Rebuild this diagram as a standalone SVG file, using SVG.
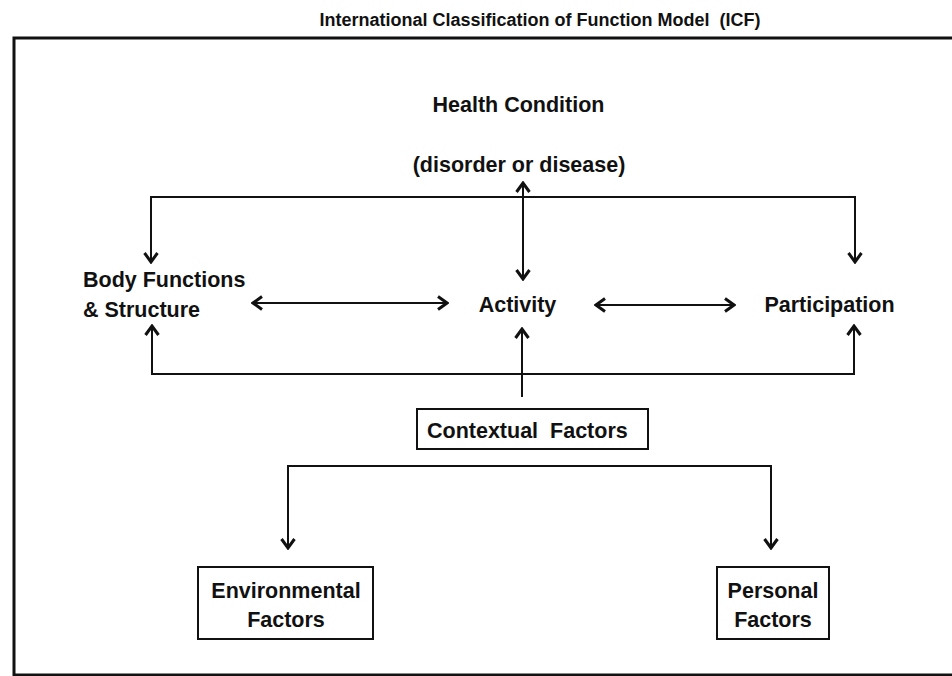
<svg xmlns="http://www.w3.org/2000/svg" width="952" height="676" viewBox="0 0 952 676">
<defs>
<style>
text{font-family:"Liberation Sans",Arial,sans-serif;font-weight:bold;font-size:21.5px;fill:#111;white-space:pre}
.title{font-size:18px}
.mid{text-anchor:middle}
.box{fill:#fff;stroke:#111;stroke-width:2}
.conn{fill:none;stroke:#111;stroke-width:2}
</style>
<marker id="arr" viewBox="-12 -10 14 20" markerWidth="14" markerHeight="20" refX="0" refY="0" markerUnits="userSpaceOnUse" orient="auto-start-reverse">
<path d="M-9,-6.5 L0,0 L-9,6.5" fill="none" stroke="#111" stroke-width="3"/>
</marker>
</defs>
<rect width="952" height="676" fill="#fff"/>
<text class="title mid" x="540" y="26" xml:space="preserve">International Classification of Function Model  (ICF)</text>
<rect x="14" y="38" width="950" height="637" fill="none" stroke="#111" stroke-width="3"/>
<g id="connectors">
<path class="conn" d="M151,262 V197 H855 V262" marker-start="url(#arr)" marker-end="url(#arr)"/>
<path class="conn" d="M523,183 V279" marker-start="url(#arr)" marker-end="url(#arr)"/>
<path class="conn" d="M253,303 H447" marker-start="url(#arr)" marker-end="url(#arr)"/>
<path class="conn" d="M596,305 H734" marker-start="url(#arr)" marker-end="url(#arr)"/>
<path class="conn" d="M152,326 V374 H854 V326" marker-start="url(#arr)" marker-end="url(#arr)"/>
<path class="conn" d="M522,397 V329" marker-end="url(#arr)"/>
<path class="conn" d="M288,548 V466 H771 V548" marker-start="url(#arr)" marker-end="url(#arr)"/>
</g>
<g id="health">
<text class="mid" x="518.5" y="112">Health Condition</text>
<text class="mid" x="519" y="172">(disorder or disease)</text>
</g>
<g id="body">
<text x="83" y="287">Body Functions</text>
<text x="83" y="317">&amp; Structure</text>
</g>
<g id="activity">
<text class="mid" x="517.5" y="312">Activity</text>
</g>
<g id="participation">
<text class="mid" x="829.5" y="312">Participation</text>
</g>
<g id="contextual">
<rect class="box" x="417" y="409" width="231" height="40"/>
<text x="427" y="438" xml:space="preserve">Contextual  Factors</text>
</g>
<g id="environmental">
<rect class="box" x="198" y="567" width="175" height="72"/>
<text class="mid" x="286" y="598">Environmental</text>
<text class="mid" x="286" y="627">Factors</text>
</g>
<g id="personal">
<rect class="box" x="717" y="567" width="112" height="72"/>
<text class="mid" x="773" y="598">Personal</text>
<text class="mid" x="773" y="627">Factors</text>
</g>
</svg>
